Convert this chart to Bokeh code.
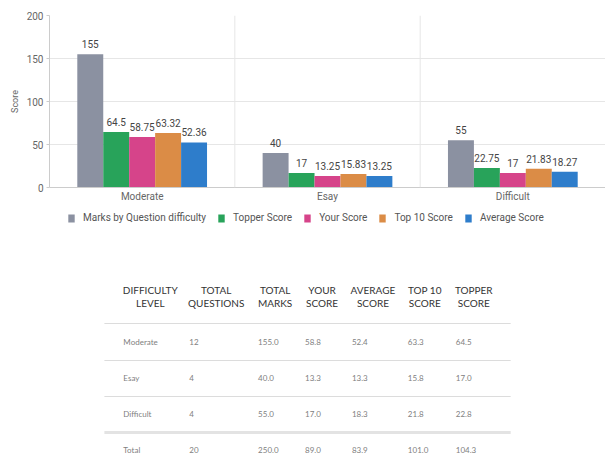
from bokeh.plotting import figure
from bokeh.models import Range1d, Legend, LegendItem, Span, ColumnDataSource, FixedTicker
from bokeh.transform import dodge
from bokeh.layouts import column
from bokeh.embed import file_html
from bokeh.resources import INLINE
from bokeh.core.properties import value

# ---------------- data ----------------
categories = ["Moderate", "Esay", "Difficult"]
series_names = ["Marks by Question difficulty", "Topper Score", "Your Score",
                "Top 10 Score", "Average Score"]
marks = [155, 40, 55]
topper = [64.5, 17, 22.75]
yours = [58.75, 13.25, 17]
top10 = [63.32, 15.83, 21.83]
average = [52.36, 13.25, 18.27]
y_ticks = [0, 50, 100, 150, 200]

tbl_header_top = ["DIFFICULTY", "TOTAL", "TOTAL", "YOUR", "AVERAGE", "TOP 10", "TOPPER"]
tbl_header_bot = ["LEVEL", "QUESTIONS", "MARKS", "SCORE", "SCORE", "SCORE", "SCORE"]
tbl_level = ["Moderate", "Esay", "Difficult", "Total"]
tbl_questions = ["12", "4", "4", "20"]
tbl_marks = ["155.0", "40.0", "55.0", "250.0"]
tbl_your = ["58.8", "13.3", "17.0", "89.0"]
tbl_avg = ["52.4", "13.3", "18.3", "83.9"]
tbl_top10 = ["63.3", "15.8", "21.8", "101.0"]
tbl_topper = ["64.5", "17.0", "22.8", "104.3"]

# ---------------- styles / layout ----------------
colors = ["#8b91a1", "#28a35a", "#d6448a", "#db8c46", "#2e7dcb"]
offsets = [-0.28, -0.14, 0.0, 0.14, 0.28]
bar_w = 0.14
FONT = "Roboto"
TFONT = "Lato"
W = 605

p = figure(x_range=categories, y_range=Range1d(0, 200), width=W, height=208,
           output_backend="svg", toolbar_location=None,
           min_border_left=49, min_border_right=0, min_border_top=15, min_border_bottom=21)
p.outline_line_color = None
p.xgrid.visible = False
p.ygrid.grid_line_color = "#e6e6e6"
p.yaxis.ticker = FixedTicker(ticks=y_ticks)
p.yaxis.axis_label = "Score"
p.yaxis.axis_label_text_font = FONT
p.yaxis.axis_label_text_font_size = "9px"
p.yaxis.axis_label_text_font_style = "normal"
p.yaxis.axis_label_text_color = "#666666"
p.yaxis.axis_label_standoff = 4
p.yaxis.major_label_text_font = FONT
p.yaxis.major_label_text_font_size = "10px"
p.yaxis.major_label_text_color = "#666666"
p.yaxis.major_label_standoff = 3
p.yaxis.major_tick_out = 3
p.yaxis.major_tick_in = 0
p.yaxis.minor_tick_line_color = None
p.yaxis.major_tick_line_color = "#cccccc"
p.yaxis.axis_line_color = "#cccccc"
p.xaxis.major_tick_line_color = None
p.xaxis.major_tick_out = 0
p.xaxis.axis_line_color = "#cccccc"
p.xaxis.major_label_text_font = FONT
p.xaxis.major_label_text_font_size = "10px"
p.xaxis.major_label_text_color = "#666666"
p.xaxis.major_label_standoff = 3

for loc in [1, 2]:
    p.add_layout(Span(location=loc, dimension="height", line_color="#e6e6e6", line_width=1))

for name, vals, c, off in zip(series_names, [marks, topper, yours, top10, average], colors, offsets):
    src = ColumnDataSource(dict(cat=categories, val=vals, lbl=[f"{v:g}" for v in vals]))
    p.vbar(x=dodge("cat", off, range=p.x_range), top="val", width=bar_w,
           fill_color=c, line_color=None, source=src)
    p.text(x=dodge("cat", off, range=p.x_range), y="val", text="lbl", source=src,
           text_align="center", text_baseline="bottom", y_offset=-6,
           text_font=value(FONT), text_font_size="10px", text_color="#444444")

# ---------------- legend strip ----------------
lg = figure(width=W, height=20, x_range=Range1d(0, 1), y_range=Range1d(0, 1),
            output_backend="svg", toolbar_location=None, min_border=0)
lg.axis.visible = False
lg.grid.visible = False
lg.outline_line_color = None
items = []
for name, c in zip(series_names, colors):
    # a single invisible (NaN) bar so that the legend swatch takes the series colour
    r = lg.vbar(x=[float("nan")], top=[float("nan")], width=0.1, fill_color=c, line_color=None)
    items.append(LegendItem(label=name, renderers=[r]))
legend = Legend(items=items, orientation="horizontal", location=(18, 5),
                label_text_font=FONT, label_text_font_size="10px", label_text_color="#555555",
                glyph_width=8, glyph_height=10, label_standoff=8, spacing=11,
                border_line_color=None, background_fill_alpha=0, padding=2, margin=0)
lg.add_layout(legend)

# ---------------- table ----------------
TH = 232
t = figure(width=W, height=TH, x_range=Range1d(48, W), y_range=Range1d(TH, 0),
           output_backend="svg", toolbar_location=None, min_border=0)
t.axis.visible = False
t.grid.visible = False
t.outline_line_color = None

head_x = [149, 215, 274, 321, 372, 424, 473]
head_y = [61, 74]
col_x = [122, 188, 257, 304, 351, 407, 455]
row_y = [113, 149, 185, 221]
line_y = [95, 132, 168]
thick_y = 204
line_x0, line_x1 = 103, 510

for txts, yy in zip([tbl_header_top, tbl_header_bot], head_y):
    t.text(x=head_x, y=[yy] * len(head_x), text=txts, text_align="center", text_baseline="middle",
           text_font=value(TFONT), text_font_size="10px", text_color="#333333")

t.segment(x0=[line_x0] * len(line_y), x1=[line_x1] * len(line_y), y0=line_y, y1=line_y,
          line_color="#dcdcdc", line_width=1)
t.segment(x0=[line_x0], x1=[line_x1], y0=[thick_y], y1=[thick_y], line_color="#e3e3e3", line_width=3)

cols = [tbl_level, tbl_questions, tbl_marks, tbl_your, tbl_avg, tbl_top10, tbl_topper]
for cx, col in zip(col_x, cols):
    t.text(x=[cx] * len(col), y=row_y, text=col, text_align="left", text_baseline="middle",
           text_font=value(TFONT), text_font_size="8px", text_color="#808080")

layout = column(p, lg, t, spacing=0)
open("out.html", "w").write(file_html(layout, INLINE))
